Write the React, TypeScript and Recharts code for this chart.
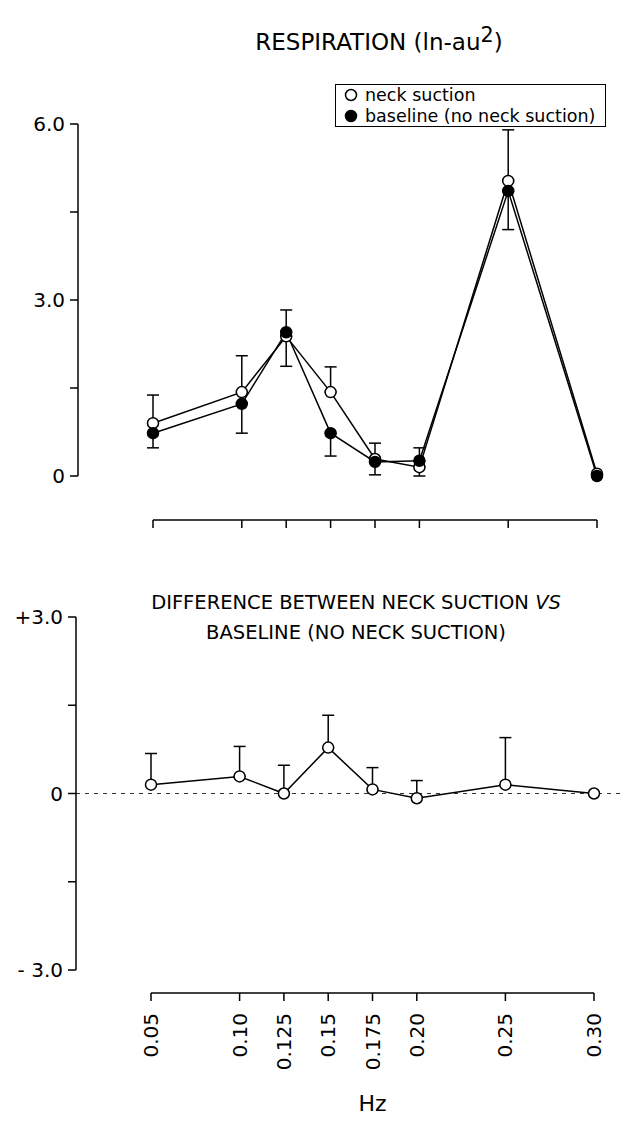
import { ComposedChart, ErrorBar, Legend, Line, ReferenceLine, XAxis, YAxis } from "recharts";

// frequency bands (Hz)
const FREQS = [0.05, 0.1, 0.125, 0.15, 0.175, 0.2, 0.25, 0.3];
const FREQ_LABELS = ["0.05", "0.10", "0.125", "0.15", "0.175", "0.20", "0.25", "0.30"];

// respiration power, ln-au^2
const NECK = [0.9, 1.43, 2.38, 1.43, 0.29, 0.15, 5.03, 0.04];
const NECK_ERR = [0.48, 0.62, 0.45, 0.43, 0.27, 0.33, 0.87, 0];
const BASE = [0.73, 1.23, 2.45, 0.73, 0.24, 0.26, 4.86, 0.0];
const BASE_ERR = [0.25, 0.5, 0.58, 0.39, 0.22, 0.26, 0.66, 0];

// neck suction minus baseline
const DIFF = [0.15, 0.29, 0.0, 0.78, 0.07, -0.08, 0.15, 0.0];
const DIFF_ERR = [0.53, 0.51, 0.48, 0.55, 0.37, 0.3, 0.8, 0];

const SERIES_NAMES = ["neck suction", "baseline (no neck suction)"];

const TOP_TICKS = [0, 1.5, 3, 4.5, 6];
const TOP_TICK_LABELS = ["0", "", "3.0", "", "6.0"];
const DIFF_TICKS = [-3, -1.5, 0, 1.5, 3];
const DIFF_TICK_LABELS = ["- 3.0", "", "0", "", "+3.0"];

const FONT = "DejaVu Sans";
const INK = "#000";

const respRows = FREQS.map((hz, i) => ({
  hz,
  neck: NECK[i],
  neckErr: NECK_ERR[i] ? [0, NECK_ERR[i]] : null,
  base: BASE[i],
  baseErr: BASE_ERR[i] ? [BASE_ERR[i], 0] : null,
}));

const diffRows = FREQS.map((hz, i) => ({
  hz,
  diff: DIFF[i],
  diffErr: DIFF_ERR[i] ? [0, DIFF_ERR[i]] : null,
}));

const axisLine = { stroke: INK, strokeWidth: 1.5 };
const tickStyle = { fill: INK, fontSize: 20, fontFamily: FONT };
const openDot = { r: 5.5, fill: "#fff", stroke: INK, strokeWidth: 1.5 };
const filledDot = { r: 5.5, fill: INK, stroke: INK, strokeWidth: 1.5 };

const fmtFrom = (ticks: number[], labels: string[]) => (v: number) =>
  labels[ticks.indexOf(v)] ?? "";

function LegendBox({ payload }: any) {
  const names = (payload || []).map((p: any) => p.value);
  return (
    <div
      style={{
        border: "1.5px solid #000",
        padding: "0 10px 0 8px",
        fontFamily: FONT,
        fontSize: 17.5,
        lineHeight: "20.5px",
        background: "#fff",
      }}
    >
      {SERIES_NAMES.filter((n) => names.includes(n)).map((n, i) => (
        <div key={n} style={{ display: "flex", alignItems: "center", whiteSpace: "nowrap" }}>
          <svg width={14} height={14} style={{ marginRight: 7 }}>
            <circle cx={7} cy={7} r={5.5} fill={i === 0 ? "#fff" : INK} stroke={INK} strokeWidth={1.5} />
          </svg>
          {n}
        </div>
      ))}
    </div>
  );
}

function RotTick({ x, y, payload }: any) {
  const label = FREQ_LABELS[FREQS.indexOf(payload.value)] ?? "";
  return (
    <text
      x={x}
      y={y}
      transform={`rotate(-90 ${x} ${y})`}
      textAnchor="end"
      dominantBaseline="central"
      fill={INK}
      fontSize={20}
      fontFamily={FONT}
    >
      {label}
    </text>
  );
}

export default function App() {
  return (
    <div style={{ position: "absolute", left: 0, top: 0, width: 627, height: 1125, background: "#fff" }}>
      <div
        style={{
          position: "absolute",
          left: 129,
          top: 27,
          width: 500,
          textAlign: "center",
          fontFamily: FONT,
          fontSize: 23,
          lineHeight: "30px",
        }}
      >
        RESPIRATION (ln-au<span style={{ fontSize: "0.9em", verticalAlign: "0.4em", lineHeight: 0 }}>2</span>)
      </div>

      {/* top panel */}
      <div style={{ position: "absolute", left: 0, top: 0 }}>
        <ComposedChart width={627} height={530} data={respRows} margin={{ top: 124, right: 30, bottom: 54, left: 0 }}>
          <XAxis dataKey="hz" type="number" domain={[0.05, 0.3]} hide padding={{ left: 75, right: 0 }} />
          <YAxis
            type="number"
            domain={[0, 6]}
            ticks={TOP_TICKS}
            interval={0}
            width={78}
            axisLine={axisLine}
            tickLine={axisLine}
            tickSize={8}
            tickMargin={5}
            tick={tickStyle}
            tickFormatter={fmtFrom(TOP_TICKS, TOP_TICK_LABELS)}
          />
          <Line
            name={SERIES_NAMES[0]}
            dataKey="neck"
            stroke={INK}
            strokeWidth={1.5}
            dot={openDot}
            activeDot={false}
            isAnimationActive={false}
          >
            <ErrorBar dataKey="neckErr" width={6} stroke={INK} strokeWidth={1.5} direction="y" />
          </Line>
          <Line
            name={SERIES_NAMES[1]}
            dataKey="base"
            stroke={INK}
            strokeWidth={1.5}
            dot={filledDot}
            activeDot={false}
            isAnimationActive={false}
          >
            <ErrorBar dataKey="baseErr" width={6} stroke={INK} strokeWidth={1.5} direction="y" />
          </Line>
          <Legend
            layout="horizontal"
            verticalAlign="middle"
            align="center"
            content={<LegendBox />}
            wrapperStyle={{ position: "absolute", left: 335, top: 84, width: "auto" }}
          />
        </ComposedChart>
      </div>

      {/* top frequency axis */}
      <div style={{ position: "absolute", left: 0, top: 500 }}>
        <ComposedChart width={627} height={40} data={respRows} margin={{ top: 0, right: 30, bottom: 0, left: 153 }}>
          <XAxis
            dataKey="hz"
            type="number"
            domain={[0.05, 0.3]}
            ticks={FREQS}
            interval={0}
            height={20}
            axisLine={axisLine}
            tickLine={axisLine}
            tickSize={8}
            tickFormatter={() => ""}
          />
          <YAxis hide domain={[0, 1]} />
        </ComposedChart>
      </div>

      <div
        style={{
          position: "absolute",
          left: 106,
          top: 588,
          width: 500,
          textAlign: "center",
          fontFamily: FONT,
          fontSize: 19.5,
          lineHeight: "30px",
        }}
      >
        DIFFERENCE BETWEEN NECK SUCTION <i>VS</i>
        <br />
        BASELINE (NO NECK SUCTION)
      </div>

      {/* difference panel */}
      <div style={{ position: "absolute", left: 0, top: 560 }}>
        <ComposedChart width={627} height={430} data={diffRows} margin={{ top: 57, right: 5, bottom: 20, left: 0 }}>
          <XAxis dataKey="hz" type="number" domain={[0.05, 0.3]} hide padding={{ left: 75, right: 28 }} />
          <YAxis
            type="number"
            domain={[-3, 3]}
            ticks={DIFF_TICKS}
            interval={0}
            width={76}
            axisLine={axisLine}
            tickLine={axisLine}
            tickSize={8}
            tickMargin={5}
            tick={tickStyle}
            tickFormatter={fmtFrom(DIFF_TICKS, DIFF_TICK_LABELS)}
          />
          <ReferenceLine y={0} stroke="#333" strokeWidth={1.2} strokeDasharray="4 5" />
          <Line
            dataKey="diff"
            stroke={INK}
            strokeWidth={1.5}
            dot={openDot}
            activeDot={false}
            isAnimationActive={false}
          >
            <ErrorBar dataKey="diffErr" width={6} stroke={INK} strokeWidth={1.5} direction="y" />
          </Line>
        </ComposedChart>
      </div>

      {/* bottom frequency axis */}
      <div style={{ position: "absolute", left: 0, top: 973 }}>
        <ComposedChart width={627} height={152} data={diffRows} margin={{ top: 0, right: 33, bottom: 0, left: 151 }}>
          <XAxis
            dataKey="hz"
            type="number"
            domain={[0.05, 0.3]}
            ticks={FREQS}
            interval={0}
            height={132}
            axisLine={axisLine}
            tickLine={axisLine}
            tickSize={8}
            tickMargin={12}
            tick={<RotTick />}
            label={{ value: "Hz", position: "insideBottom", offset: 14, fill: INK, fontSize: 22, fontFamily: FONT }}
          />
          <YAxis hide domain={[0, 1]} />
        </ComposedChart>
      </div>
    </div>
  );
}
